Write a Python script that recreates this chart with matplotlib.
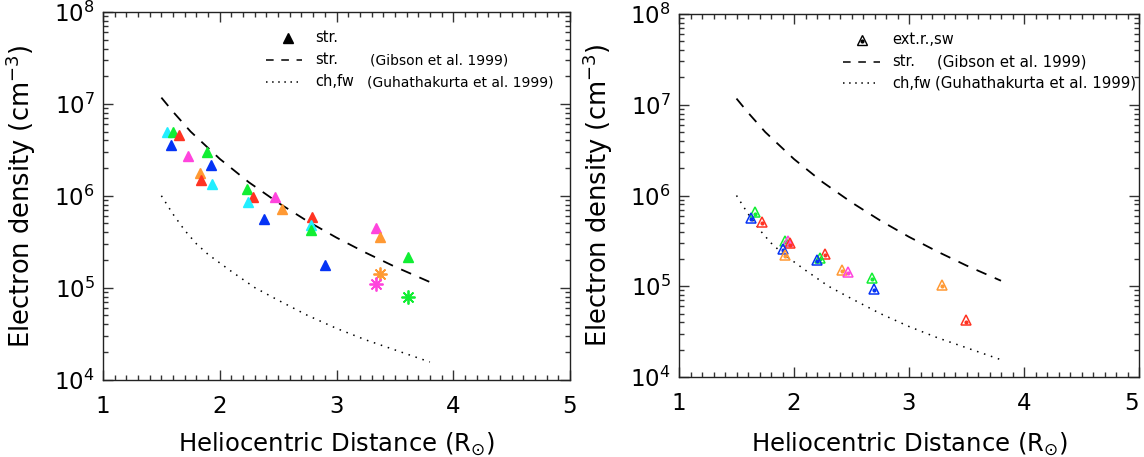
import matplotlib
matplotlib.use('agg')
import matplotlib.pyplot as plt
from matplotlib.lines import Line2D
from matplotlib.ticker import LogLocator, MultipleLocator, NullFormatter

plt.rcParams['font.family'] = ['DejaVu Sans']
plt.rcParams['mathtext.fontset'] = 'dejavusans'

# model curves
gib_r = [1.5, 1.6, 1.75, 2.0, 2.25, 2.5, 2.75, 3.0, 3.25, 3.5, 3.8]
gib_n = [1.17e7, 8.2e6, 5.0e6, 2.52e6, 1.40e6, 8.4e5, 5.3e5, 3.5e5, 2.4e5, 1.69e5, 1.15e5]
guh_r = [1.5, 1.6, 1.7, 1.8, 1.9, 2.1, 2.3, 2.5, 2.75, 3.0, 3.25, 3.5, 3.8]
guh_n = [1.0e6, 6.3e5, 4.2e5, 3.0e5, 2.3e5, 1.5e5, 1.0e5, 7.3e4, 5.0e4, 3.6e4, 2.7e4, 2.1e4, 1.55e4]

# left panel: streamers (filled triangles)
str_r = [1.545, 1.602, 1.651, 1.579, 1.731, 1.888, 1.922, 1.831, 1.842, 1.934,
         2.23, 2.282, 2.242, 2.47, 2.53, 2.379, 2.793, 2.782, 2.782, 3.338,
         3.373, 2.904, 3.615]
str_n = [5.0e6, 4.9e6, 4.6e6, 3.6e6, 2.74e6, 2.98e6, 2.14e6, 1.77e6, 1.49e6, 1.34e6,
         1.19e6, 9.8e5, 8.6e5, 9.7e5, 7.1e5, 5.6e5, 5.9e5, 4.75e5, 4.27e5, 4.45e5,
         3.6e5, 1.75e5, 2.15e5]
str_c = ['cyan', 'green', 'red', 'blue', 'magenta', 'green', 'blue', 'orange', 'red', 'cyan',
         'green', 'red', 'cyan', 'magenta', 'orange', 'blue', 'red', 'cyan', 'green', 'magenta',
         'orange', 'blue', 'green']

# left panel: asterisks
ast_r = [3.373, 3.341, 3.612]
ast_n = [1.4e5, 1.1e5, 7.9e4]
ast_c = ['orange', 'magenta', 'green']

# right panel: extended rays / slow wind (open triangles)
ext_r = [1.658, 1.629, 1.722, 1.926, 1.946, 1.967, 1.902, 1.922, 2.266, 2.228,
         2.201, 2.42, 2.468, 2.68, 2.696, 3.284, 3.493]
ext_n = [6.5e5, 5.7e5, 5.1e5, 3.15e5, 3.15e5, 2.97e5, 2.6e5, 2.2e5, 2.25e5, 2.05e5,
         1.95e5, 1.5e5, 1.44e5, 1.23e5, 9.4e4, 1.03e5, 4.2e4]
ext_c = ['green', 'blue', 'red', 'green', 'magenta', 'red', 'blue', 'orange', 'red', 'green',
         'blue', 'orange', 'magenta', 'green', 'blue', 'orange', 'red']

palette = {'cyan': '#22eeff', 'green': '#11ee33', 'red': '#ff3322', 'blue': '#0533f5',
           'magenta': '#ff44dd', 'orange': '#ff9933'}

W, H = 1144, 457
fig = plt.figure(figsize=(W / 100, H / 100), dpi=100)
ax1 = fig.add_axes([103 / W, (H - 379.5) / H, 467 / W, 367.5 / H])
ax2 = fig.add_axes([679 / W, (H - 377) / H, 460 / W, 363 / H])


def style_axes(ax, xlab_y):
    ax.set_xlim(1, 5)
    ax.set_yscale('log')
    ax.set_ylim(1e4, 1e8)
    ax.xaxis.set_major_locator(MultipleLocator(1))
    ax.xaxis.set_minor_locator(MultipleLocator(0.1))
    ax.yaxis.set_major_locator(LogLocator(base=10))
    ax.yaxis.set_minor_locator(LogLocator(base=10, subs=range(2, 10)))
    ax.yaxis.set_minor_formatter(NullFormatter())
    ax.tick_params(which='both', direction='in', top=True, right=True, width=1, colors='#333333')
    ax.tick_params(which='major', length=7)
    ax.tick_params(which='minor', length=3.5)
    ax.tick_params(axis='x', which='major', labelsize=16.5, pad=11, labelcolor='black')
    ax.tick_params(axis='y', which='major', labelsize=16.5, pad=6, labelcolor='black')
    for s in ax.spines.values():
        s.set_linewidth(1)
        s.set_color('#222222')
    ax.set_xlabel(r'Heliocentric Distance (R$_{\odot}$)', fontsize=17.5)
    ax.set_ylabel(r'Electron density (cm$^{-3}$)', fontsize=18.5)
    ax.xaxis.set_label_coords(0.5, xlab_y)
    ax.yaxis.set_label_coords(-0.139, 0.5)
    ax.plot(gib_r, gib_n, color='black', lw=1.3, ls=(0, (6, 5)))
    ax.plot(guh_r, guh_n, color='black', lw=1.1, ls=(0, (1, 3.8)))


style_axes(ax1, -0.14)
style_axes(ax2, -0.146)

# keep the last "5" on the right panel inside the figure
ax2.set_xticks([1, 2, 3, 4, 5])
ax2.xaxis.get_major_ticks()[-1].label1.set_horizontalalignment('right')

for r, n, c in zip(str_r, str_n, str_c):
    ax1.plot(r, n, marker='^', ms=7.8, color=palette[c], mec=palette[c], ls='none')
for r, n, c in zip(ast_r, ast_n, ast_c):
    ax1.plot(r, n, marker=(8, 2, 0), ms=10, color=palette[c], mew=1.3, ls='none')

for r, n, c in zip(ext_r, ext_n, ext_c):
    ax2.plot(r, n, marker='^', ms=7.8, mfc='none', mec=palette[c], mew=1.1, ls='none')
    ax2.plot(r, n * 0.97, marker='o', ms=2, color=palette[c], ls='none')


def px(x, y):
    return x / W, 1 - y / H


def legend_line(x0, x1, y, **kw):
    (a, b), (c, d) = px(x0, y), px(x1, y)
    fig.add_artist(Line2D([a, c], [b, d], color='black', **kw))


# left legend
fig.add_artist(Line2D([px(288, 38)[0]], [px(288, 38)[1]], marker='^', ms=7, color='black'))
fig.text(*px(315, 38), 'str.', fontsize=10.5, va='center')
legend_line(266, 302, 60, lw=1.1, ls=(0, (5, 5)))
fig.text(*px(315, 60), 'str.', fontsize=10.5, va='center')
fig.text(*px(370, 60), '(Gibson et al. 1999)', fontsize=10, va='center')
legend_line(266, 298, 82, lw=1.1, ls=(0, (1, 3)))
fig.text(*px(315, 82), 'ch,fw', fontsize=10.5, va='center')
fig.text(*px(367, 82), '(Guhathakurta et al. 1999)', fontsize=10, va='center')

# right legend
fig.add_artist(Line2D([px(862, 40)[0]], [px(862, 40)[1]], marker='^', ms=6.5, mfc='none',
                      mec='black', mew=1))
fig.add_artist(Line2D([px(862, 41)[0]], [px(862, 41)[1]], marker='o', ms=2, color='black'))
fig.text(*px(892, 40), 'ext.r.,sw', fontsize=10.5, va='center')
legend_line(843, 880, 62, lw=1.1, ls=(0, (5, 5)))
fig.text(*px(892, 62), 'str.', fontsize=10.5, va='center')
fig.text(*px(937, 62), '(Gibson et al. 1999)', fontsize=10.8, va='center')
legend_line(843, 875, 83, lw=1.1, ls=(0, (1, 3)))
fig.text(*px(892, 83), 'ch,fw', fontsize=10.5, va='center')
fig.text(*px(935, 83), '(Guhathakurta et al. 1999)', fontsize=10.8, va='center')

fig.savefig('out.png', dpi=100)
